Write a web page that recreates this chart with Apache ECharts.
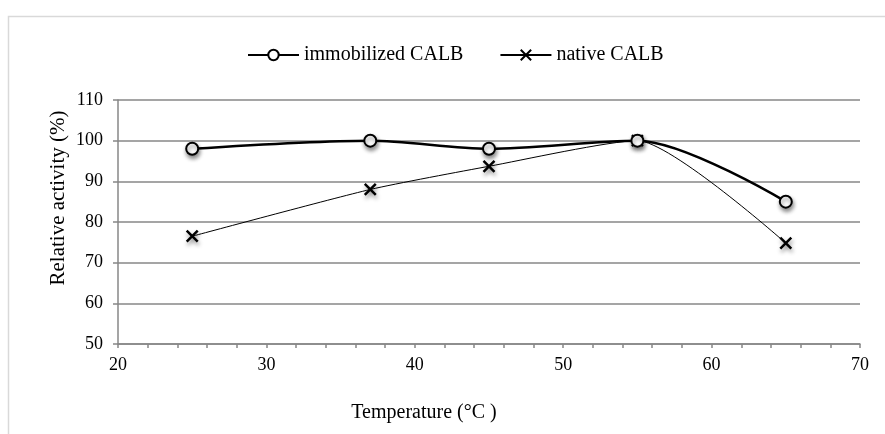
<!DOCTYPE html>
<html>
<head>
<meta charset="utf-8">
<script src="https://cdn.jsdelivr.net/npm/echarts@6/dist/echarts.min.js"></script>
<style>html,body{margin:0;padding:0;background:#fff}#c{width:885px;height:434px}</style>
</head>
<body>
<div id="c"></div>
<script>
var temperatures = [25, 37, 45, 55, 65];
var immobilized = [98, 100, 98, 100, 85];
var native = [76.5, 88, 93.7, 100, 74.8];
var seriesNames = ['immobilized CALB', 'native CALB'];
var xTitle = 'Temperature (°C )';
var yTitle = 'Relative activity (%)';

function pairs(xs, ys) { return xs.map(function (x, i) { return [x, ys[i]]; }); }

var font = 'Liberation Serif';
var gray = '#878787';
var chart = echarts.init(document.getElementById('c'));
var shadow = { shadowBlur: 4, shadowColor: 'rgba(0,0,0,0.45)', shadowOffsetY: 3, shadowOffsetX: 1 };
chart.setOption({
  animation: false,
  backgroundColor: '#fff',
  graphic: [
    { type: 'rect', shape: { x: 8.5, y: 16.5, width: 900, height: 440 }, style: { fill: 'none', stroke: '#d9d9d9', lineWidth: 1.5 }, silent: true },
    { type: 'text', x: 424, y: 413, style: { text: xTitle, font: '20px "Liberation Serif"', fill: '#000', align: 'center', verticalAlign: 'middle' } },
    { type: 'text', x: 58, y: 198, rotation: Math.PI / 2, style: { text: yTitle, font: '21px "Liberation Serif"', fill: '#000', align: 'center', verticalAlign: 'middle' } }
  ],
  legend: {
    left: 242, top: 40,
    itemWidth: 51, itemHeight: 13, itemGap: 36,
    textStyle: { fontFamily: font, fontSize: 20, color: '#000' },
    data: seriesNames
  },
  grid: { left: 118, right: 25, top: 100, bottom: 90 },
  xAxis: {
    type: 'value', min: 20, max: 70, interval: 10,
    axisLine: { show: true, lineStyle: { color: gray, width: 1.5 } },
    axisTick: { show: true, length: 4, lineStyle: { color: gray, width: 1.5 } },
    minorTick: { show: true, splitNumber: 5, length: 4, lineStyle: { color: gray, width: 1.5 } },
    splitLine: { show: false },
    axisLabel: { fontFamily: font, fontSize: 18, color: '#000', margin: 12 }
  },
  yAxis: {
    type: 'value', min: 50, max: 110, interval: 10,
    axisLine: { show: true, lineStyle: { color: gray, width: 1.5 } },
    axisTick: { show: true, length: 5, lineStyle: { color: gray, width: 1.5 } },
    splitLine: { show: true, lineStyle: { color: gray, width: 1.5 } },
    axisLabel: { fontFamily: font, fontSize: 18, color: '#000', margin: 15 }
  },
  series: [
    {
      name: seriesNames[0], type: 'line', smooth: 0.3,
      data: pairs(temperatures, immobilized),
      symbol: 'emptyCircle', symbolSize: 12,
      lineStyle: { color: '#000', width: 2.5 },
      itemStyle: Object.assign({ color: '#000', borderColor: '#000', borderWidth: 2.5 }, shadow),
      z: 3
    },
    {
      name: seriesNames[1], type: 'line', smooth: 0.2,
      data: pairs(temperatures, native),
      symbol: 'path://M0,0L10,10M10,0L0,10', symbolSize: 11,
      lineStyle: { color: '#000', width: 1 },
      itemStyle: Object.assign({ color: 'none', borderColor: '#000', borderWidth: 2.5 }, shadow),
      z: 2
    }
  ]
});
</script>
</body>
</html>
